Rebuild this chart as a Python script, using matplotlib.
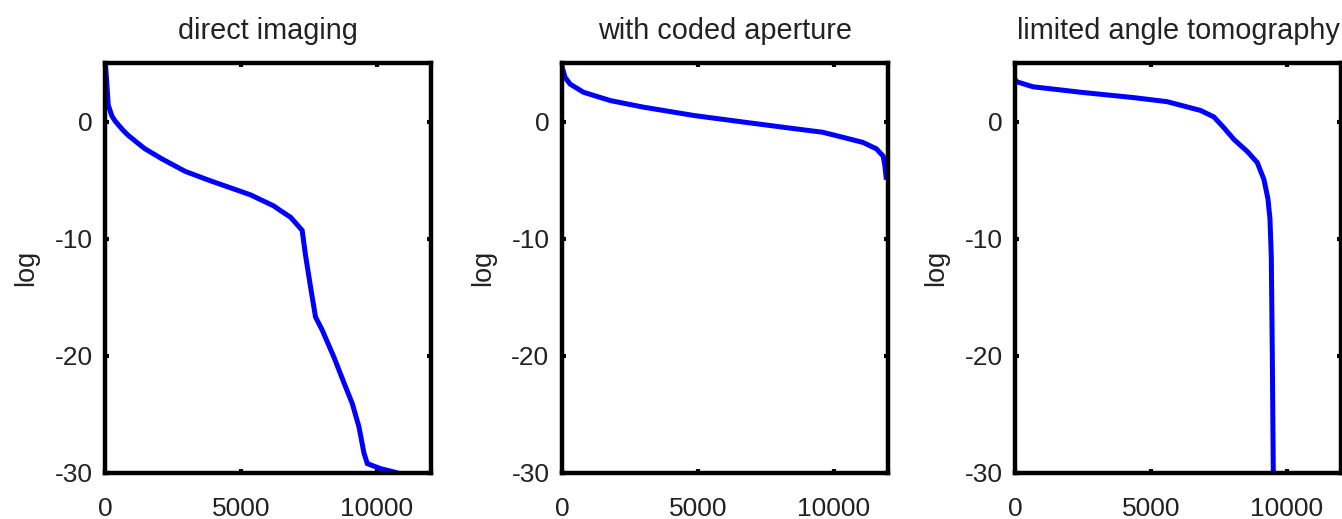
import matplotlib
matplotlib.use("Agg")
import matplotlib.pyplot as plt

plt.rcParams['font.family'] = ['Liberation Sans', 'DejaVu Sans']

titles = ["direct imaging", "with coded aperture", "limited angle tomography"]
y_label = "log"
x_ticks = [0, 5000, 10000]
y_ticks = [-30, -20, -10, 0]
x_max = 12000
y_range = (-30, 5)

# sorted log-magnitude curves (index, value)
direct_x = [0, 60, 120, 250, 370, 675, 862, 1292, 1476, 2092, 2952, 3813, 4120,
            5350, 6211, 6458, 6827, 7073, 7258, 7380, 7565, 7749, 7995, 8425,
            8856, 9102, 9348, 9533, 9656, 10148, 10701]
direct_y = [5.5, 3.5, 1.4, 0.5, 0.05, -0.77, -1.19, -2.0, -2.33, -3.18, -4.25,
            -5.0, -5.25, -6.25, -7.2, -7.6, -8.16, -8.8, -9.29, -11.4, -14.1,
            -16.68, -17.8, -20.1, -22.65, -24.07, -26.06, -28.3, -29.2, -29.63,
            -29.95]

coded_x = [0, 112, 297, 792, 1784, 3023, 4881, 6740, 8599, 9591, 10335, 11078,
           11574, 11822, 11884, 11930]
coded_y = [4.7, 3.78, 3.2, 2.5, 1.79, 1.22, 0.51, -0.06, -0.62, -0.91, -1.34,
           -1.78, -2.33, -2.95, -3.75, -4.75]

tomo_x = [0, 62, 664, 2509, 4354, 5597, 6089, 6827, 7318, 7687, 8056, 8549,
          8918, 9164, 9311, 9385, 9434, 9471, 9508, 9515]
tomo_y = [3.6, 3.4, 2.97, 2.48, 2.05, 1.7, 1.4, 0.95, 0.4, -0.52, -1.52, -2.55,
          -3.5, -4.95, -6.6, -8.3, -11.5, -19.8, -30.0, -33.0]

curves = [(direct_x, direct_y), (coded_x, coded_y), (tomo_x, tomo_y)]

fig = plt.figure(figsize=(13.42, 5.19), dpi=100)
lefts = [105 / 1342, 562 / 1342, 1015 / 1342]
width = 326 / 1342
bottom = 1 - 473 / 519
height = (473 - 63) / 519
text_color = '#222222'

for left, title, (xs, ys) in zip(lefts, titles, curves):
    ax = fig.add_axes([left, bottom, width, height])
    ax.plot(xs, ys, color=(0, 0, 1), lw=3.6, solid_joinstyle='miter')
    ax.set_xlim(0, x_max)
    ax.set_ylim(*y_range)
    ax.set_xticks(x_ticks)
    ax.set_yticks(y_ticks)
    ax.set_xticklabels([str(t) for t in x_ticks])
    ax.set_yticklabels([str(t) for t in y_ticks])
    for sp in ax.spines.values():
        sp.set_linewidth(3.2)
        sp.set_color('black')
    ax.tick_params(axis='both', which='major', direction='in', length=3,
                   width=3, top=True, right=True, labelsize=19,
                   colors='black', labelcolor=text_color)
    ax.tick_params(axis='x', pad=17)
    ax.tick_params(axis='y', pad=9)
    ax.set_ylabel(y_label, fontsize=19.5, labelpad=11, color=text_color)
    ax.set_title(title, fontsize=20.8, pad=17, color=text_color)

fig.savefig("out.png", dpi=100)
